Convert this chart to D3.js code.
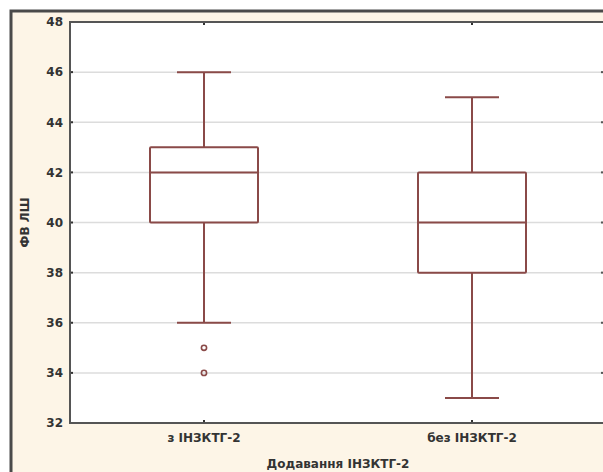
<!DOCTYPE html>
<html>
<head>
<meta charset="utf-8">
<script src="https://cdn.jsdelivr.net/npm/d3@7"></script>
<style>
  html, body { margin: 0; padding: 0; background: #ffffff; }
  svg { display: block; }
  text { font-family: "DejaVu Sans", "Liberation Sans", Arial, sans-serif; font-weight: bold; fill: #333333; }
</style>
</head>
<body>
<svg id="chart" width="603" height="472"></svg>
<script>
// Box plot of ФВ ЛШ by group
const categories = ["з ІНЗКТГ-2", "без ІНЗКТГ-2"];
const whiskerLow  = [36, 33];
const q1          = [40, 38];
const medians     = [42, 40];
const q3          = [43, 42];
const whiskerHigh = [46, 45];
const outliers    = [[35, 34], []];
const yTicks = [32, 34, 36, 38, 40, 42, 44, 46, 48];
const yTitle = "ФВ ЛШ";
const xTitle = "Додавання ІНЗКТГ-2";

const svg = d3.select("#chart");
const plot = { left: 70, top: 22, right: 606, bottom: 423 };
const boxColor = "#8a4a48";

// outer panel
svg.append("rect").attr("x", 11).attr("y", 11).attr("width", 620).attr("height", 480)
  .attr("fill", "#fdf5e7").attr("stroke", "#4a4a4a").attr("stroke-width", 3);

const y = d3.scaleLinear().domain([32, 48]).range([plot.bottom, plot.top]);
const x = d3.scaleBand().domain(categories).range([plot.left, plot.right]).paddingInner(0).paddingOuter(0);
const cx = c => x(c) + x.bandwidth() / 2;

// plot area
svg.append("rect").attr("x", plot.left).attr("y", plot.top)
  .attr("width", plot.right - plot.left).attr("height", plot.bottom - plot.top)
  .attr("fill", "#ffffff");

// grid lines
svg.append("g").selectAll("line").data(yTicks.slice(1, -1)).join("line")
  .attr("x1", plot.left).attr("x2", plot.right)
  .attr("y1", d => y(d)).attr("y2", d => y(d))
  .attr("stroke", "#dcdcdc").attr("stroke-width", 1.5);

// y axis
const yAxis = svg.append("g").attr("transform", `translate(${plot.left},0)`)
  .call(d3.axisLeft(y).tickValues(yTicks).tickSize(0).tickPadding(7).tickFormat(d3.format("d")));
yAxis.select(".domain").remove();
yAxis.selectAll("text").attr("font-size", 12).attr("font-family", null).style("fill", "#333");

// small tick marks on left and right edges
svg.append("g").selectAll("rect").data(yTicks).join("rect")
  .attr("x", plot.left + 1).attr("y", d => y(d) - 1).attr("width", 2).attr("height", 2).attr("fill", "#333");
svg.append("g").selectAll("rect").data(yTicks).join("rect")
  .attr("x", 601).attr("y", d => y(d) - 1).attr("width", 2).attr("height", 2).attr("fill", "#555");

// x axis
const xAxis = svg.append("g").attr("transform", `translate(0,${plot.bottom})`)
  .call(d3.axisBottom(x).tickSize(0).tickPadding(10));
xAxis.select(".domain").remove();
xAxis.selectAll("text").attr("font-size", 12).attr("font-family", null).style("fill", "#333");
svg.append("g").selectAll("rect").data(categories).join("rect")
  .attr("x", d => cx(d) - 1).attr("y", plot.bottom - 3).attr("width", 2).attr("height", 2).attr("fill", "#333");
svg.append("g").selectAll("rect").data(categories).join("rect")
  .attr("x", d => cx(d) - 1).attr("y", plot.top + 1).attr("width", 2).attr("height", 2).attr("fill", "#333");

// plot frame
svg.append("rect").attr("x", plot.left).attr("y", plot.top)
  .attr("width", plot.right - plot.left).attr("height", plot.bottom - plot.top)
  .attr("fill", "none").attr("stroke", "#555").attr("stroke-width", 2);

// boxes
const boxHalf = 54, capHalf = 27;
const g = svg.append("g").attr("stroke", boxColor).attr("fill", "none").attr("stroke-width", 2);
categories.forEach((c, i) => {
  const mx = cx(c);
  g.append("line").attr("x1", mx).attr("x2", mx).attr("y1", y(whiskerHigh[i])).attr("y2", y(q3[i]));
  g.append("line").attr("x1", mx).attr("x2", mx).attr("y1", y(q1[i])).attr("y2", y(whiskerLow[i]));
  g.append("line").attr("x1", mx - capHalf).attr("x2", mx + capHalf).attr("y1", y(whiskerHigh[i])).attr("y2", y(whiskerHigh[i]));
  g.append("line").attr("x1", mx - capHalf).attr("x2", mx + capHalf).attr("y1", y(whiskerLow[i])).attr("y2", y(whiskerLow[i]));
  g.append("rect").attr("x", mx - boxHalf).attr("y", y(q3[i]))
    .attr("width", boxHalf * 2).attr("height", y(q1[i]) - y(q3[i])).attr("rx", 1);
  g.append("line").attr("x1", mx - boxHalf).attr("x2", mx + boxHalf).attr("y1", y(medians[i])).attr("y2", y(medians[i]));
  g.selectAll(null).data(outliers[i]).join("circle")
    .attr("cx", mx).attr("cy", d => y(d)).attr("r", 2.6).attr("stroke-width", 1.6);
});

// axis titles
svg.append("text").attr("transform", `translate(29,${(plot.top + plot.bottom) / 2}) rotate(-90)`)
  .attr("text-anchor", "middle").attr("font-size", 12).text(yTitle);
svg.append("text").attr("x", (plot.left + plot.right) / 2).attr("y", 468)
  .attr("text-anchor", "middle").attr("font-size", 12).text(xTitle);
</script>
</body>
</html>
